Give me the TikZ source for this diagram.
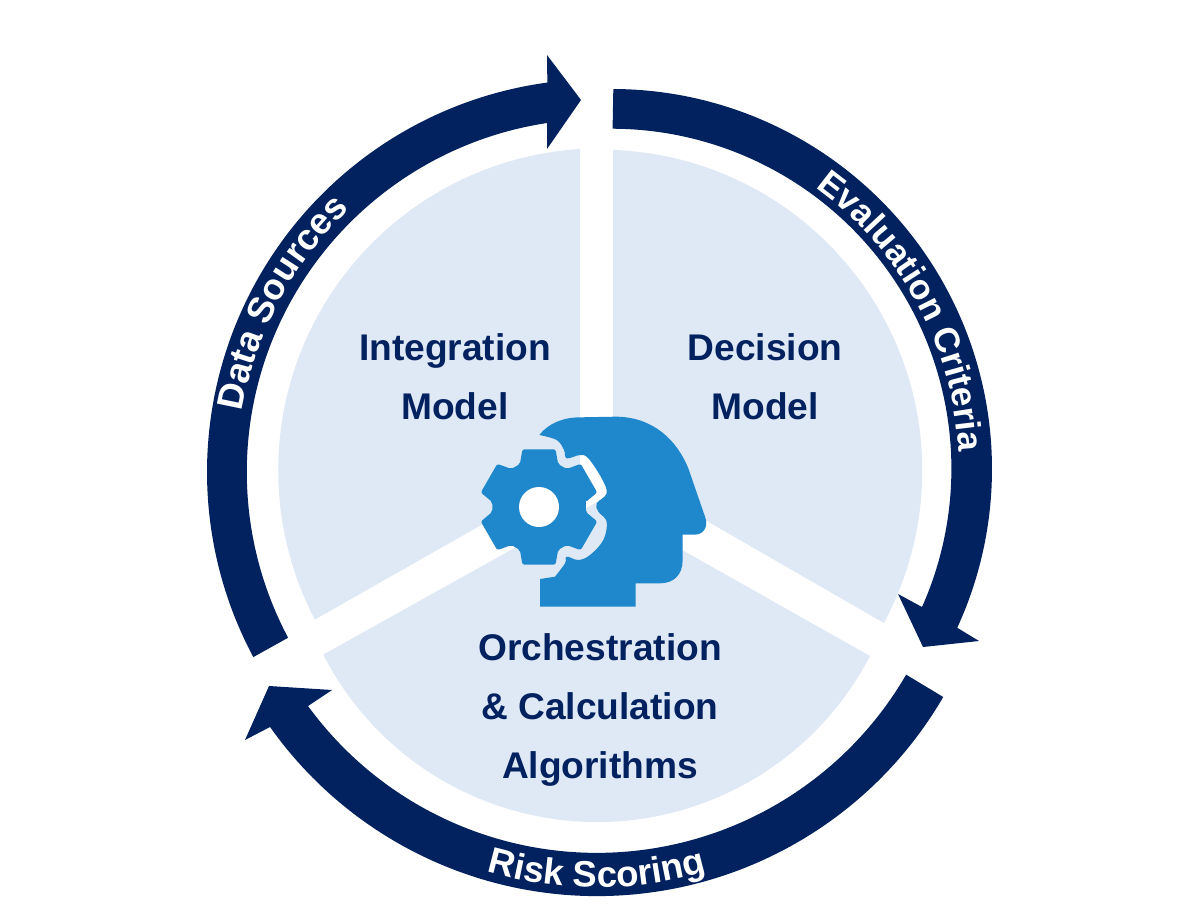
\documentclass[tikz,border=0pt]{standalone}
\usepackage{fontspec}
\setmainfont{Liberation Sans}
\usetikzlibrary{decorations.text}
\definecolor{ringnavy}{HTML}{02215F}
\definecolor{sectorblue}{HTML}{DEE9F5}
\definecolor{iconblue}{HTML}{1F87CB}
\newcommand{\ringfont}{\fontsize{26pt}{26pt}\selectfont\bfseries}
\newcommand{\evalfont}{\fontsize{25pt}{25pt}\selectfont\bfseries}
\tikzset{
  ringarrow/.style={fill=ringnavy},
  sector/.style={fill=sectorblue},
  modellabel/.style={text=ringnavy,align=center,inner sep=0pt,
    font=\fontsize{26.4pt}{41.8pt}\selectfont\bfseries},
  ringtext/.style={decorate,decoration={text along path,text color=white,
    text align=center,text={#1}}}
}
\begin{document}
\begin{tikzpicture}[x=.025cm,y=.025cm]
  \useasboundingbox (0,0) rectangle (1200,910);
  \fill[white] (0,0) rectangle (1200,910);
  \coordinate (ca) at (600,438);
  \coordinate (cb) at (612,441);
  \coordinate (cc) at (597,414.5);
  \coordinate (sc) at (597,395.5);

  \path[sector] (580,761) arc[start angle=93.6,end angle=207.6,radius=322]
    -- (580,441) -- cycle;
  \path[sector] (613,760) arc[start angle=87.9,end angle=-28.3,radius=321]
    -- (613,443) -- cycle;
  \path[sector] (sc) ++(207.1:307.5) arc[start angle=207.1,end angle=332.6,radius=307.5]
    -- (597,408) -- cycle;

  \path[ringarrow] (ca) ++(208.1:393) arc[start angle=208.1,end angle=97.7,radius=393]
    -- (547,855) -- (581,810) -- (547,761) -- (547,787)
    arc[start angle=98.6,end angle=208,radius=353] -- cycle;
  \path[ringarrow] (cb) ++(89.8:380) arc[start angle=89.8,end angle=-24.7,radius=380]
    -- (979,269) -- (923,263) -- (898,316) -- (922,303)
    arc[start angle=-24,end angle=89.8,radius=340] -- cycle;
  \path[ringarrow] (cc) ++(-30.2:400.6) arc[start angle=-30.2,end angle=-144.7,radius=400.6]
    -- (245,170) -- (269,224) -- (332,220) -- (308,204)
    arc[start angle=-143.9,end angle=-30.1,radius=357.5] -- cycle;

  \path[ringtext={|\ringfont|Data Sources}] (ca) ++(185:363)
    arc[start angle=185,end angle=119,radius=363];
  \path[ringtext={|\evalfont|Evaluation Criteria}] (cb) ++(66:347)
    arc[start angle=66,end angle=-9,radius=347];
  \path[ringtext={|\ringfont|Risk Scoring}] (cc) ++(235:392)
    arc[start angle=235,end angle=305,radius=392];

  \node[modellabel] (integration) at (455,533) {Integration\\Model};
  \node[modellabel] (decision) at (765,533) {Decision\\Model};
  \node[modellabel] (orchestration) at (600,200) {Orchestration\\\& Calculation\\Algorithms};

  \begin{scope}[shift={(460,510)},x=.025cm/3,y=-.025cm/3]
    \fill[iconblue] (238,105) .. controls (265,70) and (310,52) .. (360,52)
      -- (470,50) .. controls (580,52) and (650,120) .. (685,205)
      -- (735,350) .. controls (745,375) and (735,403) .. (705,404)
      -- (668,404) -- (668,480) .. controls (668,525) and (640,550) .. (600,550)
      -- (527,550) -- (527,620) -- (240,620) -- (240,537)
      -- plot[smooth,tension=.6] coordinates {(285,530) (315,490) (320,470)
        (355,480) (390,465) (430,420) (440,365) (415,335) (410,310) (440,280)
        (425,235) (385,175) (360,165) (320,175) (312,150) (290,120) (238,105)}
      -- cycle;
  \end{scope}
  \begin{scope}[shift={(539,403)}]
    \fill[iconblue,rounded corners=1.5pt] (6:47)
      \foreach \a in {30,90,...,330} {
        -- (\a-24:47) -- (\a-16:60) -- (\a+16:60) -- (\a+24:47)
      } -- cycle;
    \fill[white] (0,0) circle[radius=20];
  \end{scope}
\end{tikzpicture}
\end{document}
